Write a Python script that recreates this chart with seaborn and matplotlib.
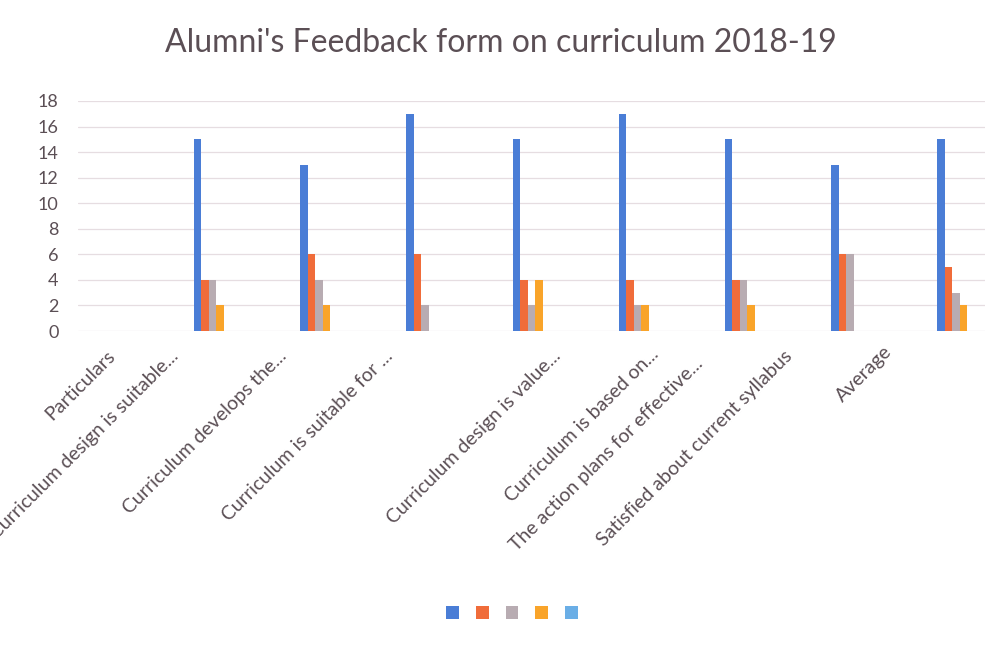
import numpy as np
import pandas as pd
import matplotlib
matplotlib.use('Agg')
import matplotlib.pyplot as plt
import matplotlib.transforms as mtransforms
import seaborn as sns

categories = ['Particulars',
              'Curriculum design is suitable...',
              'Curriculum develops the...',
              'Curriculum is suitable for ...',
              'Curriculum design is value...',
              'Curriculum is based on...',
              'The action plans for effective...',
              'Satisfied about current syllabus',
              'Average']
series = ['S1', 'S2', 'S3', 'S4', 'S5']
s1 = [np.nan, 15, 13, 17, 15, 17, 15, 13, 15]
s2 = [np.nan, 4, 6, 6, 4, 4, 4, 6, 5]
s3 = [np.nan, 4, 4, 2, 2, 2, 4, 6, 3]
s4 = [np.nan, 2, 2, 0, 4, 2, 2, 0, 2]
s5 = [np.nan, 0, 0, 0, 0, 0, 0, 0, 0]
colors = ['#4A7DD6', '#F06C3A', '#B8ACB2', '#F9A42A', '#6AAEE6']

rows = []
for name, vals in zip(series, [s1, s2, s3, s4, s5]):
    for cat, v in zip(categories, vals):
        rows.append({'category': cat, 'series': name, 'value': v})
df = pd.DataFrame(rows)

sns.set_style('white')
plt.rcParams['font.family'] = ['Lato', 'DejaVu Sans']
text_col = '#5b4f55'

fig = plt.figure(figsize=(10.02, 6.47), dpi=100)
ax = fig.add_axes([78/1002, 316/647, 907/1002, 230/647])

sns.barplot(data=df, x='category', y='value', hue='series', order=categories,
            hue_order=series, palette=colors, saturation=1, width=0.353, gap=0,
            linewidth=0, errorbar=None, ax=ax)

ax.set_ylim(0, 18)
ax.set_yticks(range(0, 19, 2))
ax.set_xlim(-0.268, 8.272)
ax.set_xlabel('')
ax.set_ylabel('')
ax.grid(axis='y', color='#e6dde1', linewidth=0.9)
ax.set_axisbelow(True)
for sp in ax.spines.values():
    sp.set_visible(False)
ax.tick_params(axis='y', length=0, labelsize=13, labelcolor=text_col, pad=14)
ax.tick_params(axis='x', length=0, labelsize=14, labelcolor=text_col, pad=0)

# tick label nudges to follow the original label placement (pixels)
dx = [6, -37, -35, -35, 27, 18, -44, -60, -67]
dy = [-22, -22, -22, -22, -22, -20, -30, -22, -18]
for lab, ox, oy in zip(ax.get_xticklabels(), dx, dy):
    lab.set_rotation(45)
    lab.set_ha('right')
    lab.set_va('center')
    lab.set_rotation_mode('anchor')
    lab.set_transform(lab.get_transform() +
                      mtransforms.ScaledTranslation(ox/100, oy/100, fig.dpi_scale_trans))

fig.text(0.5, 1 - 43/647, "Alumni's Feedback form on curriculum 2018-19",
         ha='center', va='center', fontsize=23, color=text_col)

handles, _ = ax.get_legend_handles_labels()
ax.legend(handles, [''] * len(handles), ncol=5, frameon=False,
          loc='center', bbox_to_anchor=(512/1002, 1 - 614/647),
          bbox_transform=fig.transFigure, fontsize=13,
          handlelength=0.7, handleheight=0.7, handletextpad=0,
          columnspacing=0.95)

fig.savefig('out.png', dpi=100, facecolor='white')
